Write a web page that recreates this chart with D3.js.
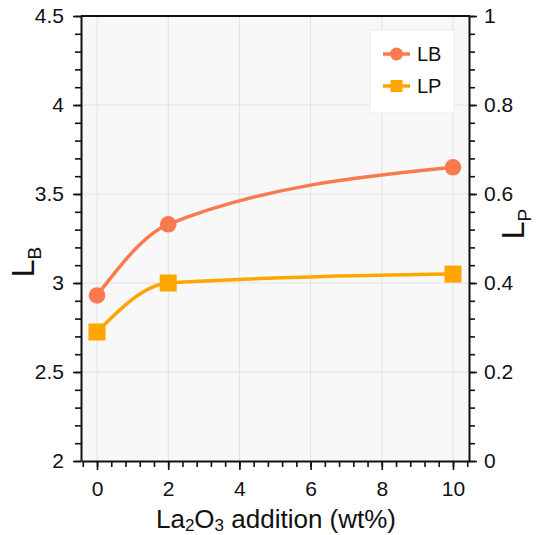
<!DOCTYPE html>
<html>
<head>
<meta charset="utf-8">
<script src="https://cdn.jsdelivr.net/npm/d3@7/dist/d3.min.js"></script>
<style>
  body { margin: 0; background: #fff; }
  text { font-family: "Liberation Sans", Arial, Helvetica, sans-serif; fill: #111; }
</style>
</head>
<body>
<svg id="chart"></svg>
<script>
// data
var additions = [0, 2, 10];            // La2O3 addition (wt%)
var lbValues = [2.93, 3.33, 3.65];     // L_B, left axis
var lpValues = [0.29, 0.40, 0.42];     // L_P, right axis
var xTicks = [0, 2, 4, 6, 8, 10];
var yLeftTicks = [2, 2.5, 3, 3.5, 4, 4.5];
var yRightTicks = [0, 0.2, 0.4, 0.6, 0.8, 1];

var width = 538,
    height = 535,
    margin = {top: 16, right: 69, bottom: 74, left: 81};

var svg = d3.select("#chart")
    .attr("width", width)
    .attr("height", height);

var x = d3.scaleLinear().domain([-0.45, 10.45]).range([margin.left, width - margin.right]);
var yL = d3.scaleLinear().domain([2, 4.5]).range([height - margin.bottom, margin.top]);
var yR = d3.scaleLinear().domain([0, 1]).range([height - margin.bottom, margin.top]);

var x0 = margin.left, x1 = width - margin.right,
    y0 = height - margin.bottom, y1 = margin.top;

// plot background
svg.append("rect")
    .attr("x", x0).attr("y", y1)
    .attr("width", x1 - x0).attr("height", y0 - y1)
    .style("fill", "#f8f8f8");

// grid
svg.append("g").selectAll("line")
    .data(xTicks)
    .enter().append("line")
    .attr("x1", function (d) { return x(d); })
    .attr("x2", function (d) { return x(d); })
    .attr("y1", y1).attr("y2", y0)
    .style("stroke", "#e2e2e2").style("stroke-width", 1);

svg.append("g").selectAll("line")
    .data(yLeftTicks.slice(1, -1))
    .enter().append("line")
    .attr("y1", function (d) { return yL(d); })
    .attr("y2", function (d) { return yL(d); })
    .attr("x1", x0).attr("x2", x1)
    .style("stroke", "#e2e2e2").style("stroke-width", 1);

// minor ticks
function minor(a, b, step) {
    var out = [];
    var n = Math.round((b - a) / step);
    for (var i = 0; i <= n; i++) out.push(+(a + i * step).toFixed(4));
    return out;
}

function drawAxis(axis, transform, minorVals, minorAxis) {
    var g = svg.append("g").attr("transform", transform);
    g.call(minorAxis.tickValues(minorVals).tickSize(6).tickFormat(""));
    g.selectAll("path").remove();
    var g2 = svg.append("g").attr("transform", transform).call(axis);
    svg.selectAll(".tick line").style("stroke", "#111").style("stroke-width", 1.6);
    g2.select(".domain").style("stroke", "#111").style("stroke-width", 2);
    g2.selectAll("text").style("font-size", "21px").style("fill", "#111");
    return g2;
}

drawAxis(d3.axisBottom(x).tickValues(xTicks).tickSize(9).tickSizeOuter(0).tickPadding(11),
    "translate(0," + y0 + ")", minor(-0.4, 10.4, 0.4), d3.axisBottom(x));
drawAxis(d3.axisLeft(yL).tickValues(yLeftTicks).tickSize(8).tickSizeOuter(0).tickPadding(9)
        .tickFormat(d3.format("")),
    "translate(" + x0 + ",0)", minor(2, 4.5, 0.1), d3.axisLeft(yL));
drawAxis(d3.axisRight(yR).tickValues(yRightTicks).tickSize(8).tickSizeOuter(0).tickPadding(7)
        .tickFormat(d3.format("")),
    "translate(" + x1 + ",0)", minor(0, 1, 0.04), d3.axisRight(yR));

// top border
svg.append("line")
    .attr("x1", x0).attr("x2", x1 + 1).attr("y1", y1).attr("y2", y1)
    .style("stroke", "#111").style("stroke-width", 2);

// axis titles
var xt = svg.append("text")
    .attr("x", (x0 + x1) / 2 + 1).attr("y", 528)
    .attr("text-anchor", "middle")
    .style("font-size", "26px");
xt.append("tspan").text("La");
xt.append("tspan").text("2").attr("font-size", "17px").attr("dy", 3);
xt.append("tspan").text("O").attr("dy", -3);
xt.append("tspan").text("3").attr("font-size", "17px").attr("dy", 3);
xt.append("tspan").text(" addition (wt%)").attr("dy", -3);

function yTitle(cx, cy, sub) {
    var t = svg.append("text")
        .attr("transform", "translate(" + cx + "," + cy + ")rotate(-90)")
        .attr("text-anchor", "middle")
        .style("font-size", "32px");
    t.append("tspan").text("L");
    t.append("tspan").text(sub).attr("font-size", "19px").attr("dy", 7);
}
yTitle(34, 262, "B");
yTitle(524, 224, "P");

// series
var lbData = additions.map(function (d, i) { return [d, lbValues[i]]; });
var lpData = additions.map(function (d, i) { return [d, lpValues[i]]; });

var lbColor = "#fa7a50", lpColor = "#ffa500";

var lineL = d3.line().curve(d3.curveMonotoneX)
    .x(function (d) { return x(d[0]); })
    .y(function (d) { return yL(d[1]); });
var lineR = d3.line().curve(d3.curveMonotoneX)
    .x(function (d) { return x(d[0]); })
    .y(function (d) { return yR(d[1]); });

svg.append("path").datum(lbData).attr("d", lineL)
    .style("fill", "none").style("stroke", lbColor).style("stroke-width", 3.5);
svg.append("path").datum(lpData).attr("d", lineR)
    .style("fill", "none").style("stroke", lpColor).style("stroke-width", 3.5);

svg.append("g").selectAll("circle")
    .data(lbData).enter().append("circle")
    .attr("cx", function (d) { return x(d[0]); })
    .attr("cy", function (d) { return yL(d[1]); })
    .attr("r", 8.3)
    .style("fill", lbColor);

svg.append("g").selectAll("rect")
    .data(lpData).enter().append("rect")
    .attr("x", function (d) { return x(d[0]) - 8.5; })
    .attr("y", function (d) { return yR(d[1]) - 8.5; })
    .attr("width", 17).attr("height", 17)
    .style("fill", lpColor);

// legend
var lg = svg.append("g").attr("transform", "translate(370,30)");
lg.append("rect")
    .attr("width", 84).attr("height", 83)
    .style("fill", "#fff").style("stroke", "#ececec");
var items = [{name: "LB", color: lbColor, shape: "circle"}, {name: "LP", color: lpColor, shape: "square"}];
items.forEach(function (it, i) {
    var cy = 24 + i * 32;
    lg.append("line").attr("x1", 13).attr("x2", 40).attr("y1", cy).attr("y2", cy)
        .style("stroke", it.color).style("stroke-width", 3.5);
    if (it.shape === "circle") {
        lg.append("circle").attr("cx", 26.5).attr("cy", cy).attr("r", 6.5).style("fill", it.color);
    } else {
        lg.append("rect").attr("x", 20.5).attr("y", cy - 6).attr("width", 12).attr("height", 12).style("fill", it.color);
    }
    lg.append("text").attr("x", 47).attr("y", cy + 7).text(it.name).style("font-size", "20px");
});
</script>
</body>
</html>
